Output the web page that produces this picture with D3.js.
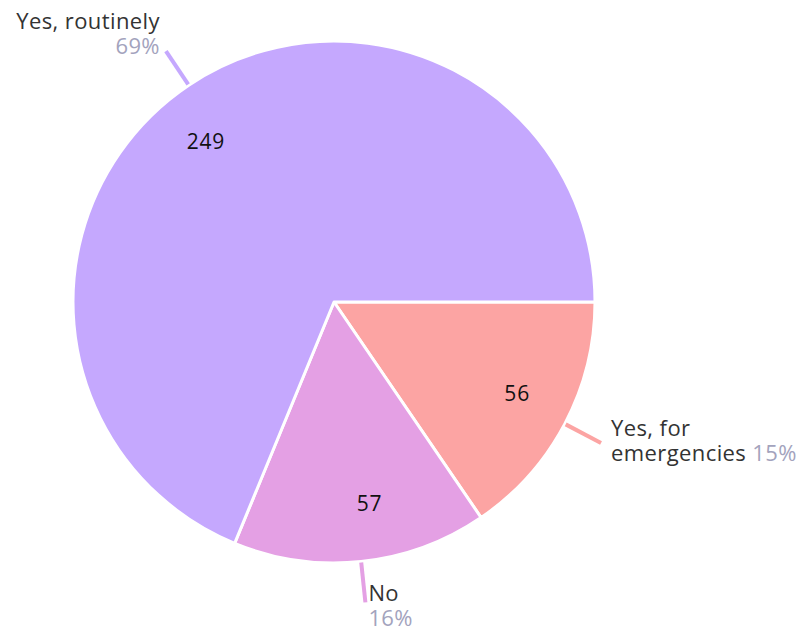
<!DOCTYPE html>
<html>
<head>
<meta charset="utf-8">
<script src="https://cdn.jsdelivr.net/npm/d3@7"></script>
<style>
  body { margin: 0; background: #fff; }
  text { font-family: "Open Sans", Lato, sans-serif; }
</style>
</head>
<body>
<script>
// slices in clockwise order starting at 3 o'clock
var categories = ["Yes, for emergencies", "No", "Yes, routinely"];
var counts = [56, 57, 249];
var percents = ["15%", "16%", "69%"];
var colors = ["#fca4a3", "#e4a0e4", "#c5a8fe"];

var width = 798, height = 637;
var cx = 334, cy = 302, r = 261;

var svg = d3.select("body").append("svg")
    .attr("width", width)
    .attr("height", height);

var data = categories.map(function (c, i) {
  return { name: c, value: counts[i], pct: percents[i], color: colors[i] };
});

var pie = d3.pie()
    .sort(null)
    .value(function (d) { return d.value; })
    .startAngle(Math.PI / 2)
    .endAngle(Math.PI / 2 + 2 * Math.PI);

var arc = d3.arc().innerRadius(0).outerRadius(r);

var g = svg.append("g").attr("transform", "translate(" + cx + "," + cy + ")");

var arcs = pie(data);

g.selectAll("path.slice")
  .data(arcs)
  .enter().append("path")
  .attr("class", "slice")
  .attr("d", arc)
  .style("fill", function (d) { return d.data.color; })
  .style("stroke", "#fff")
  .style("stroke-width", 3)
  .style("stroke-linejoin", "round");

function pt(a, rad) {
  return [Math.sin(a) * rad, -Math.cos(a) * rad];
}
function mid(d) { return (d.startAngle + d.endAngle) / 2; }

// values inside, nudged a little anticlockwise like the original
var nudge = [-0.02, -0.07, -0.085];
function valAngle(d) { return mid(d) + nudge[d.index]; }
g.selectAll("text.val")
  .data(arcs)
  .enter().append("text")
  .attr("class", "val")
  .attr("x", function (d) { return pt(valAngle(d), 205)[0]; })
  .attr("y", function (d) { return pt(valAngle(d), 205)[1] + 7; })
  .attr("text-anchor", "middle")
  .style("font-size", "21px")
  .style("letter-spacing", "0.8px")
  .style("fill", "#111")
  .text(function (d) { return d.data.value; });

// leader lines
g.selectAll("line.lead")
  .data(arcs)
  .enter().append("line")
  .attr("x1", function (d) { return pt(mid(d), r + 1)[0]; })
  .attr("y1", function (d) { return pt(mid(d), r + 1)[1]; })
  .attr("x2", function (d) { return pt(mid(d), r + 41)[0]; })
  .attr("y2", function (d) { return pt(mid(d), r + 41)[1]; })
  .style("stroke", function (d) { return d.data.color; })
  .style("stroke-width", 4);

// outer labels
var em = arcs[0], no = arcs[1], yr = arcs[2];
var labelSize = "22px", spacing = "0.4px";

var t1 = g.append("text")
  .attr("x", pt(mid(yr), r + 41)[0] - 6)
  .attr("y", pt(mid(yr), r + 41)[1] - 22)
  .attr("text-anchor", "end")
  .style("font-size", labelSize)
  .style("letter-spacing", spacing);
t1.append("tspan").style("fill", "#333").text(yr.data.name);
t1.append("tspan")
  .attr("x", pt(mid(yr), r + 41)[0] - 6)
  .attr("dy", 25)
  .style("fill", "#a3a3bd")
  .text(yr.data.pct);

var ex = pt(mid(em), r + 41)[0] + 10, ey = pt(mid(em), r + 41)[1] - 7;
var t2 = g.append("text")
  .attr("x", ex).attr("y", ey)
  .style("font-size", labelSize)
  .style("letter-spacing", spacing);
t2.append("tspan").style("fill", "#333").text("Yes, for");
t2.append("tspan").attr("x", ex).attr("dy", 25).style("fill", "#333").text("emergencies");
t2.append("tspan").style("fill", "#a3a3bd").text(" " + em.data.pct);

var nx = pt(mid(no), r + 41)[0] + 3, ny = pt(mid(no), r + 41)[1] - 1;
var t3 = g.append("text")
  .attr("x", nx).attr("y", ny)
  .style("font-size", labelSize)
  .style("letter-spacing", spacing);
t3.append("tspan").style("fill", "#333").text(no.data.name);
t3.append("tspan").attr("x", nx).attr("dy", 25).style("fill", "#a3a3bd").text(no.data.pct);
</script>
</body>
</html>
